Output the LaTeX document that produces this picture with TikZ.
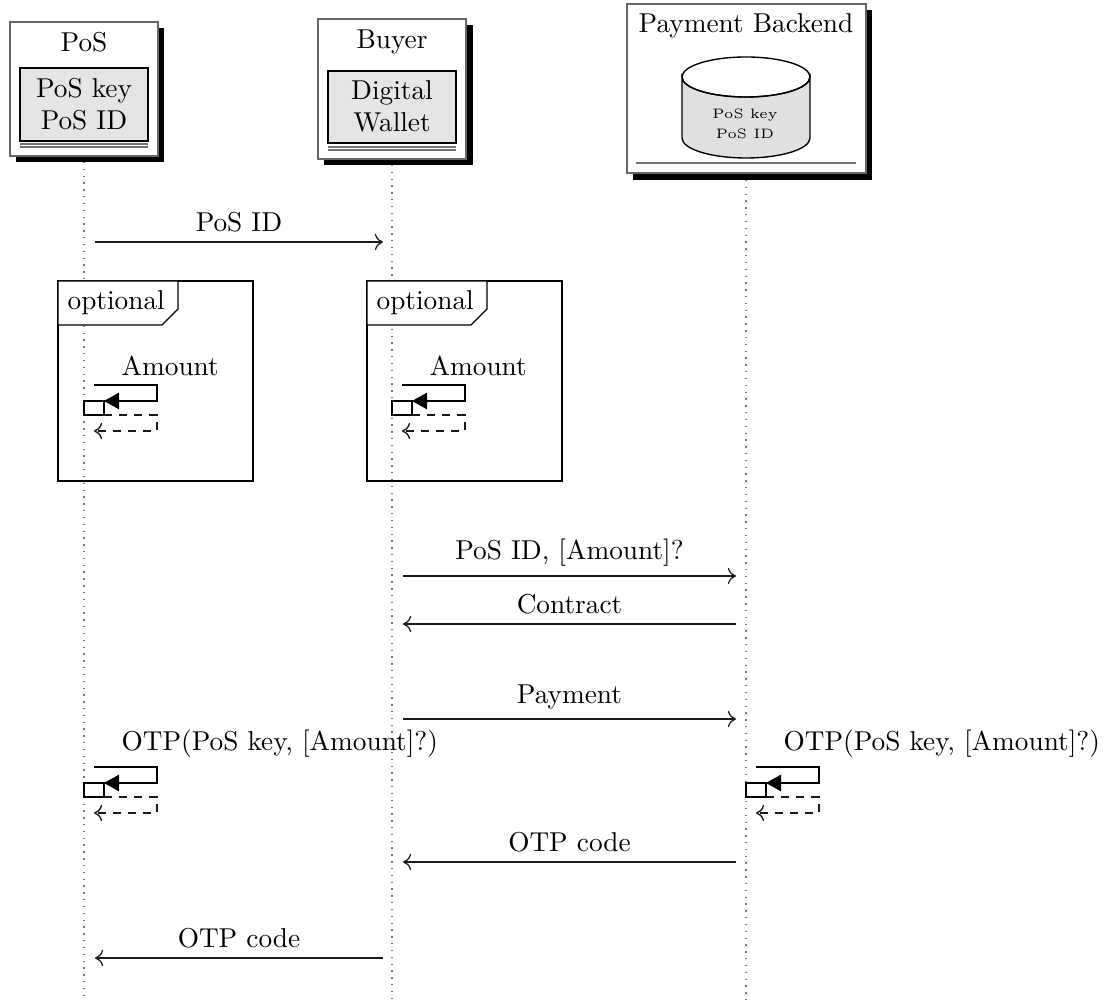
\documentclass[tikz,border=0pt]{standalone}
\usetikzlibrary{arrows.meta}
\begin{document}
\begin{tikzpicture}[x=0.3663pt,y=-0.3663pt,
  hdr/.style={draw=black!60,fill=white,line width=0.6pt},
  shadowbox/.style={fill=black},
  inbox/.style={draw=black,line width=1pt,fill=black!10},
  dbl/.style={draw=black!55,line width=0.6pt},
  lifeline/.style={draw=black!55,dotted,line width=0.5pt},
  msg/.style={draw=black!90,line width=0.45pt,-{To[length=3pt,width=6pt]}},
  framebox/.style={draw=black,line width=0.5pt},
  tabbox/.style={draw=black,fill=white,line width=0.5pt},
  actbox/.style={draw=black,fill=white,line width=0.5pt},
  callline/.style={draw=black,line width=0.5pt,-{Triangle[length=5.5pt,width=6pt]}},
  retline/.style={draw=black!90,dash pattern=on 3pt off 2.5pt,line width=0.5pt,-{To[length=3pt,width=6pt]}},
  dbtext/.style={font=\fontsize{5}{7}\selectfont,anchor=base},
  lbl/.style={above}
]
\useasboundingbox (0,0) rectangle (1110,1002);

% lifelines
\coordinate (posT) at (84,162);  \coordinate (posB) at (84,1000);
\coordinate (buyT) at (392,165); \coordinate (buyB) at (392,1000);
\coordinate (pbT)  at (746,180); \coordinate (pbB)  at (746,1000);
\draw[lifeline] (posT) -- (posB);
\draw[lifeline] (buyT) -- (buyB);
\draw[lifeline] (pbT) -- (pbB);

% headers
\fill[shadowbox] (16,28) rectangle (164,162);
\draw[hdr] (10,22) rectangle (158,156);
\node[anchor=base] (posname) at (84,52) {PoS};
\draw[inbox] (20,68) rectangle (148,141);
\node[anchor=base] (poskey) at (84,98) {PoS key};
\node[anchor=base] (posid) at (84,130) {PoS ID};
\draw[dbl] (20,144) -- (148,144);
\draw[dbl] (20,147) -- (148,147);

\fill[shadowbox] (324,25) rectangle (473,165);
\draw[hdr] (318,19) rectangle (466,159);
\node[anchor=base] (buyname) at (392,49) {Buyer};
\draw[inbox] (328,71) rectangle (456,143);
\node[anchor=base] (digital) at (392,100) {Digital};
\node[anchor=base] (wallet) at (392,132) {Wallet};
\draw[dbl] (328,147) -- (456,147);
\draw[dbl] (328,150) -- (456,150);

\fill[shadowbox] (633,10) rectangle (872,180);
\draw[hdr] (627,4) rectangle (866,173);
\node[anchor=base] (pbname) at (746,33) {Payment Backend};
\path[draw=black,fill=black!12,line width=0.5pt]
  (682,77) -- (682,138) arc[start angle=180,end angle=0,x radius=64,y radius=20]
  -- (810,77) arc[start angle=0,end angle=180,x radius=64,y radius=20] -- cycle;
\draw[line width=0.5pt] (746,77) ellipse[x radius=64,y radius=20];
\node[dbtext] (dbkey) at (745,119) {PoS key};
\node[dbtext] (dbid) at (745,139) {PoS ID};
\draw[draw=black!55,line width=1pt] (636,163) -- (856,163);

% message 1
\coordinate (m1a) at (95,242); \coordinate (m1b) at (383,242);
\draw[msg] (m1a) -- node[lbl] (l1) {PoS ID} (m1b);

% optional frames
\draw[framebox] (58,281) rectangle (253,481);
\draw[tabbox] (58,281) -- (178,281) -- (178,309) -- (162,325) -- (58,325) -- cycle;
\node[anchor=base west] (opt1) at (58,310) {optional};
\draw[framebox] (367,281) rectangle (562,481);
\draw[tabbox] (367,281) -- (487,281) -- (487,309) -- (471,325) -- (367,325) -- cycle;
\node[anchor=base west] (opt2) at (367,310) {optional};

\newcommand\umlself[4]{%
  \draw[actbox] ({#2},{#3+16}) rectangle ({#2+20},{#3+30});
  \draw[callline] ({#2+10},{#3}) -- ({#2+73},{#3}) -- ({#2+73},{#3+16}) -- ({#2+20},{#3+16});
  \node[anchor=south west] (#1) at ({#2+28},{#3}) {#4};
  \draw[retline] ({#2+20},{#3+30}) -- ({#2+73},{#3+30}) -- ({#2+73},{#3+46}) -- ({#2+10},{#3+46});
}
\umlself{am1}{84}{385}{Amount}
\umlself{am2}{392}{385}{Amount}

% messages
\coordinate (m2a) at (403,576); \coordinate (m2b) at (736,576);
\draw[msg] (m2a) -- node[lbl] (l2) {PoS ID, [Amount]?} (m2b);
\coordinate (m3a) at (736,624); \coordinate (m3b) at (403,624);
\draw[msg] (m3a) -- node[lbl] (l3) {Contract} (m3b);
\coordinate (m4a) at (403,719); \coordinate (m4b) at (736,719);
\draw[msg] (m4a) -- node[lbl] (l4) {Payment} (m4b);

\umlself{otp1}{84}{767}{OTP(PoS key, [Amount]?)}
\umlself{otp2}{746}{767}{OTP(PoS key, [Amount]?)}

\coordinate (m5a) at (736,862); \coordinate (m5b) at (403,862);
\draw[msg] (m5a) -- node[lbl] (l5) {OTP code} (m5b);
\coordinate (m6a) at (383,958); \coordinate (m6b) at (95,958);
\draw[msg] (m6a) -- node[lbl] (l6) {OTP code} (m6b);
\end{tikzpicture}
\end{document}
